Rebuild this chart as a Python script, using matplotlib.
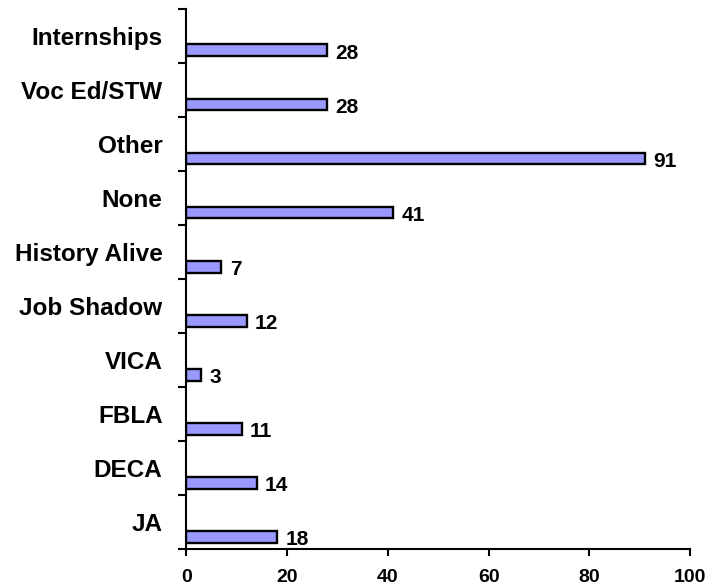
import matplotlib.pyplot as plt
import numpy as np

plt.rcParams['font.family'] = ['Liberation Sans', 'DejaVu Sans']
plt.rcParams['font.weight'] = 'bold'

# categories listed bottom to top
programs = ['JA', 'DECA', 'FBLA', 'VICA', 'Job Shadow', 'History Alive',
            'None', 'Other', 'Voc Ed/STW', 'Internships']
counts = [18, 14, 11, 3, 12, 7, 41, 91, 28, 28]

fig = plt.figure(figsize=(7.08, 5.88), dpi=100)
ax = fig.add_axes([0.263, 0.066, 0.712, 0.919])

pos = np.arange(len(programs))
# bars sit in the lower part of each band
bar_y = pos - 0.27
ax.barh(bar_y, counts, height=0.22, color='#9999ff', edgecolor='black', linewidth=1.7)

for y, v in zip(bar_y, counts):
    ax.annotate(str(v), (v, y), xytext=(6, -2), textcoords='offset points',
                ha='left', va='center', fontsize=15, fontweight='bold')

ax.set_xlim(0, 100)
ax.set_ylim(-0.5, len(programs) - 0.5)
ax.set_xticks(range(0, 101, 20))
ax.set_yticks(pos)
ax.set_yticklabels(programs, fontsize=17.5, fontweight='bold')
ax.set_yticks(np.arange(-0.5, len(programs), 1), minor=True)
ax.tick_params(axis='y', which='major', length=0, pad=17)
ax.tick_params(axis='y', which='minor', length=5.5, width=1.5, direction='out')
ax.tick_params(axis='x', length=5, width=1.5, direction='out', labelsize=14, pad=9)
for lab in ax.get_xticklabels():
    lab.set_fontweight('bold')

ax.spines['top'].set_visible(False)
ax.spines['right'].set_visible(False)
ax.spines['left'].set_linewidth(1.5)
ax.spines['bottom'].set_linewidth(1.5)

plt.savefig('out.png', dpi=100)
